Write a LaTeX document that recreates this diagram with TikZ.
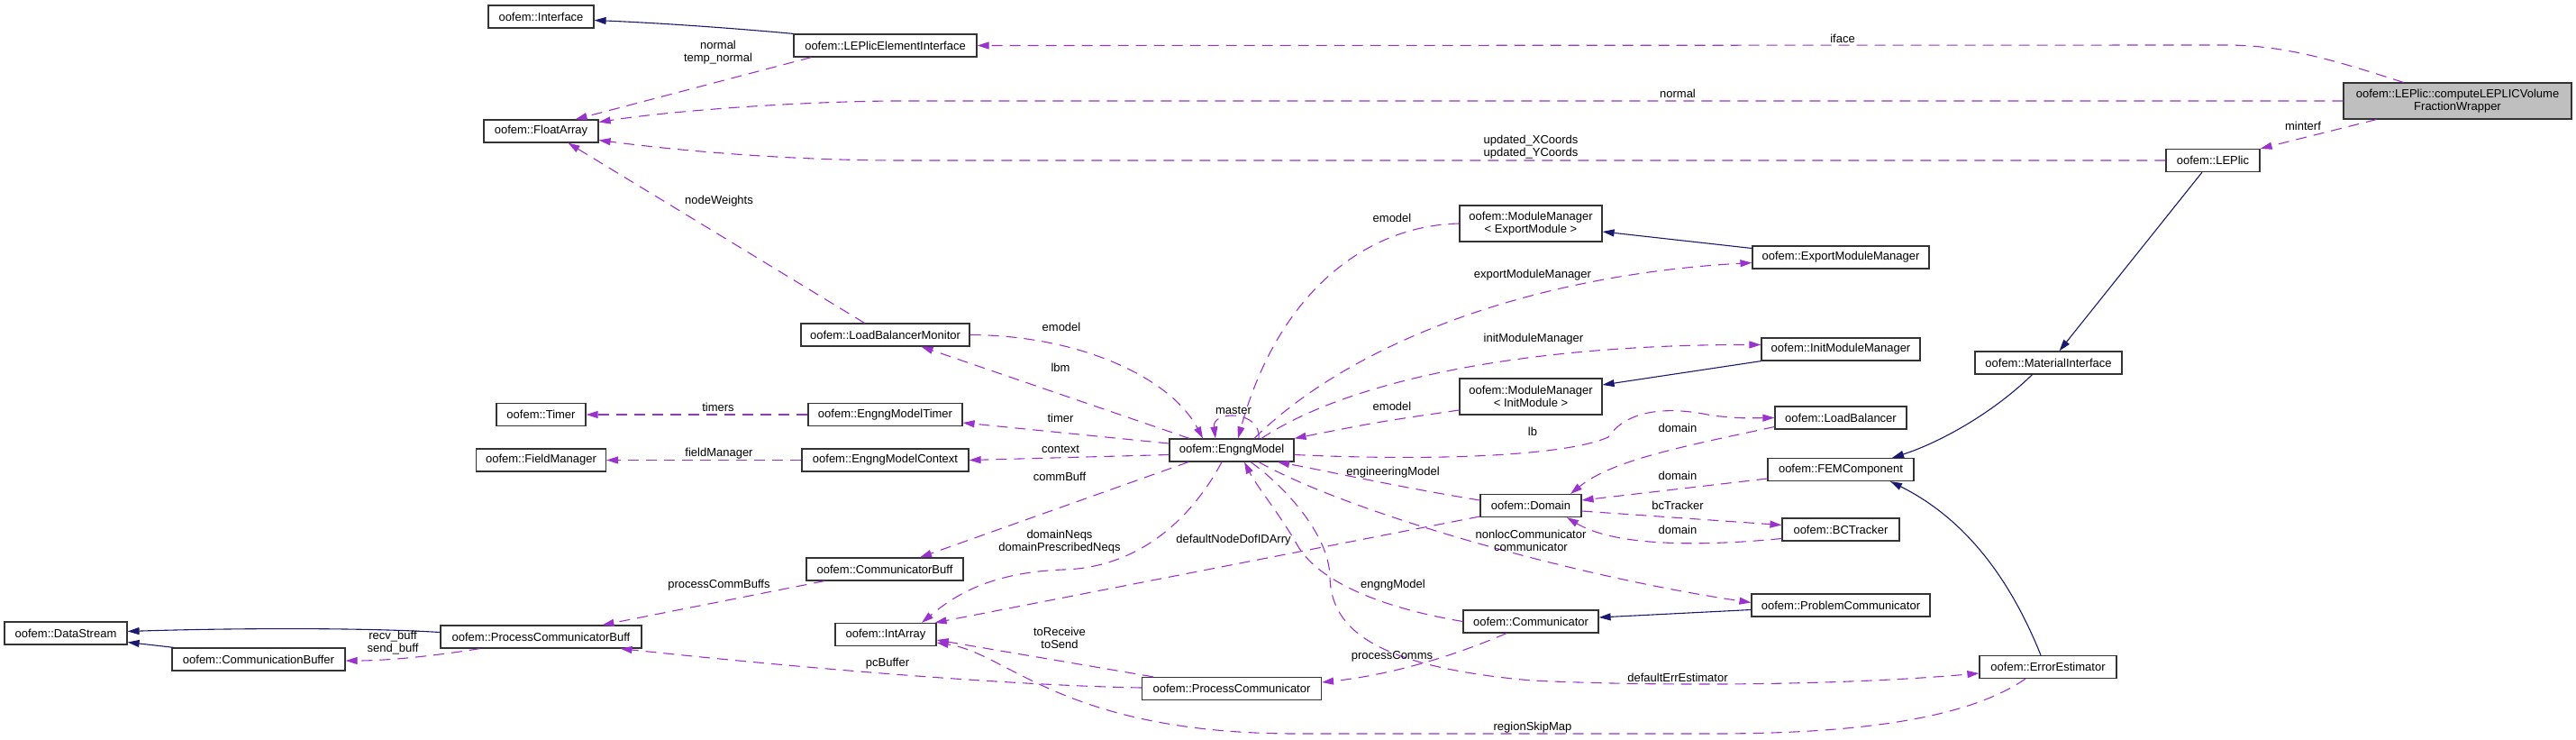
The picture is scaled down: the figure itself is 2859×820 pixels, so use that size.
\documentclass[tikz,border=0pt]{standalone}
\usepackage{fontspec}
\setmainfont{Liberation Sans}
\usepackage{tikz}
\usetikzlibrary{arrows.meta}
\definecolor{orchid}{RGB}{154,50,205}
\definecolor{midnight}{RGB}{25,25,112}

\begin{document}
\begin{tikzpicture}[x=1pt, y=-1pt,
		font=\fontsize{13}{14}\selectfont,
		box/.style={draw=black!80, line width=1.2pt, fill=white, minimum height=25pt, inner sep=0pt},
		twobox/.style={box, minimum height=40pt, align=center},
		lbl/.style={inner sep=0pt, align=center},
		relation/.style={orchid, line width=1.1pt, dash pattern=on 12pt off 8pt, -{Triangle[length=13pt,width=8pt]}},
		inherits/.style={midnight, line width=1.1pt, -{Triangle[length=13pt,width=8pt]}}]
			\useasboundingbox (0,0) rectangle (2859,820);
			% classes
			\node[twobox, fill=black!25, minimum width=253pt] (mainnode) at (2727.5,112) {oofem::LEPlic::computeLEPLICVolume\\FractionWrapper};
			\node[box, minimum width=117pt] (iface) at (600.5,18.5) {oofem::Interface};
			\node[box, minimum width=203pt] (lepei) at (982.5,50.5) {oofem::LEPlicElementInterface};
			\node[box, minimum width=127pt] (floatarr) at (600.5,145.5) {oofem::FloatArray};
			\node[box, minimum width=104pt] (leplic) at (2456,178) {oofem::LEPlic};
			\node[box, minimum width=163pt] (matiface) at (2273.5,402.5) {oofem::MaterialInterface};
			\node[box, minimum width=162pt] (femcomp) at (2043,521) {oofem::FEMComponent};
			\node[box, minimum width=152pt] (errest) at (2273,740) {oofem::ErrorEstimator};
			\node[box, minimum width=187pt] (lbmon) at (982.5,371.5) {oofem::LoadBalancerMonitor};
			\node[box, minimum width=138pt] (engmod) at (1367,499.5) {oofem::EngngModel};
			\node[box, minimum width=171pt] (emtimer) at (982.5,460) {oofem::EngngModelTimer};
			\node[box, minimum width=99pt] (timer) at (600.5,460) {oofem::Timer};
			\node[box, minimum width=185pt] (emcontext) at (982.5,510.5) {oofem::EngngModelContext};
			\node[box, minimum width=144pt] (fieldman) at (600.5,510.5) {oofem::FieldManager};
			\node[box, minimum width=174pt] (commbuff) at (982,631.5) {oofem::CommunicatorBuff};
			\node[box, minimum width=223pt] (pcbuff) at (600.5,706.5) {oofem::ProcessCommunicatorBuff};
			\node[box, minimum width=136pt] (datastream) at (73,702.5) {oofem::DataStream};
			\node[box, minimum width=192pt] (combuffer) at (287,731.5) {oofem::CommunicationBuffer};
			\node[box, minimum width=112pt] (intarr) at (983,704) {oofem::IntArray};
			\node[box, minimum width=199pt] (proccomm) at (1367,764) {oofem::ProcessCommunicator};
			\node[twobox, minimum width=158pt] (mmexport) at (1699,248) {oofem::ModuleManager\\< ExportModule >};
			\node[box, minimum width=196pt] (expmm) at (2043,285.5) {oofem::ExportModuleManager};
			\node[box, minimum width=176pt] (initmm) at (2043,387.5) {oofem::InitModuleManager};
			\node[twobox, minimum width=158pt] (mminit) at (1699,440) {oofem::ModuleManager\\< InitModule >};
			\node[box, minimum width=146pt] (loadbal) at (2043,463.5) {oofem::LoadBalancer};
			\node[box, minimum width=112pt] (domain) at (1699,561) {oofem::Domain};
			\node[box, minimum width=130pt] (bctrack) at (2043,587.5) {oofem::BCTracker};
			\node[box, minimum width=198pt] (probcomm) at (2043,671.5) {oofem::ProblemCommunicator};
			\node[box, minimum width=150pt] (communic) at (1699,689.5) {oofem::Communicator};
			% inheritance
			\draw[inherits] (lepei.north west) .. controls (800,30) and (720,25) .. ([yshift=-4pt]iface.east);
			\draw[inherits] ([xshift=-12pt]leplic.south) -- ([xshift=12pt]matiface.north);
			\draw[inherits] ([xshift=-18pt]matiface.south) .. controls (2210,460) and (2150,492) .. ([xshift=57pt]femcomp.north);
			\draw[inherits] ([xshift=-8pt]errest.north) .. controls (2230,640) and (2180,575) .. ([xshift=55pt]femcomp.south);
			\draw[inherits] ([yshift=10pt]expmm.west) -- ([yshift=-9pt]mmexport.east);
			\draw[inherits] (initmm.south west) -- ([yshift=13pt]mminit.east);
			\draw[inherits] ([yshift=-5pt]probcomm.west) -- ([yshift=4.5pt]communic.east);
			\draw[inherits] ([yshift=5pt]pcbuff.west) .. controls (400,696) and (250,697) .. ([yshift=2pt]datastream.east);
			\draw[inherits] ([xshift=-94pt]combuffer.north) -- ([yshift=-10pt]datastream.east);
			% members
			\draw[relation] ([xshift=20pt]lepei.south west) -- ([xshift=-26pt]floatarr.north east);
			\draw[relation] ([xshift=-60pt]mainnode.north) .. controls (2600,70) and (2540,50) .. (2470,50) -- (lepei.east);
			\draw[relation] (mainnode.west) -- (1000,112) .. controls (900,112) and (750,122) .. ([yshift=10pt]floatarr.east);
			\draw[relation] (leplic.west) -- (1000,178) .. controls (880,178) and (760,168) .. ([yshift=-10pt]floatarr.east);
			\draw[relation] ([xshift=-90pt]mainnode.south) -- (leplic.north east);
			\draw[relation] ([xshift=-23pt]lbmon.north) -- ([xshift=30pt]floatarr.south);
			\draw[relation] (lbmon.east) .. controls (1200,372) and (1300,420) .. ([xshift=-32pt]engmod.north);
			\draw[relation] ([xshift=-47pt]engmod.north) -- ([xshift=40pt]lbmon.south);
			\draw[relation] ([xshift=30pt]engmod.north) .. controls (1400,455) and (1345,455) .. ([xshift=-18pt]engmod.north);
			\draw[relation] ([yshift=7.5pt]engmod.west) -- ([yshift=-9pt]emtimer.east);
			\draw[relation] (emtimer.west) -- (timer.east);
			\draw[relation] ([yshift=-5pt]engmod.west) -- (emcontext.east);
			\draw[relation] (emcontext.west) -- (fieldman.east);
			\draw[relation] ([xshift=-48pt]engmod.south) -- ([xshift=39pt]commbuff.north);
			\draw[relation] ([xshift=-67pt]commbuff.south) -- ([xshift=68pt]pcbuff.north);
			\draw[relation] ([xshift=-68pt]pcbuff.south) .. controls (480,728) and (430,733) .. ([yshift=-1.5pt]combuffer.east);
			\draw[relation] ([xshift=-11pt]engmod.south) .. controls (1320,580) and (1260,630) .. (1180,632) .. controls (1100,635) and (1060,660) .. ([xshift=40pt]intarr.north);
			\draw[relation] ([yshift=-12pt]domain.west) -- ([xshift=-2pt]intarr.north east);
			\draw[relation] ([xshift=-87pt]proccomm.north) -- ([yshift=-6pt]intarr.east);
			\draw[relation] ([xshift=-25pt]errest.south) .. controls (2180,800) and (2050,814) .. (1900,814) -- (1440,814) .. controls (1180,814) and (1120,725) .. ([yshift=-9pt]intarr.east);
			\draw[relation] ([yshift=1pt]proccomm.west) .. controls (1100,760) and (850,737) .. ([xshift=88pt]pcbuff.south);
			\draw[relation] ([xshift=25pt]engmod.north) .. controls (1500,380) and (1700,305) .. ([yshift=-6pt]expmm.west);
			\draw[relation] ([xshift=33pt]engmod.north) .. controls (1500,420) and (1700,382) .. ([yshift=5pt]initmm.west);
			\draw[relation] (mmexport.west) .. controls (1520,250) and (1420,320) .. ([xshift=7pt]engmod.north);
			\draw[relation] ([yshift=-15pt]mminit.west) .. controls (1530,468) .. (engmod.north east);
			\draw[relation] ([yshift=-5pt]engmod.east) .. controls (1600,512) and (1740,505) .. (1785,485) .. controls (1805,455) and (1850,450) .. (1900,461) .. controls (1930,464) .. (loadbal.west);
			\draw[relation] ([yshift=-10pt]loadbal.west) .. controls (1870,495) and (1790,510) .. ([xshift=44pt]domain.north);
			\draw[relation] ([yshift=6pt]domain.west) .. controls (1550,540) and (1470,522) .. ([xshift=51pt]engmod.south);
			\draw[relation] ([yshift=-10pt]femcomp.west) -- ([yshift=6pt]domain.east);
			\draw[relation] ([yshift=-6pt]domain.east) -- ([yshift=5pt]bctrack.west);
			\draw[relation] ([yshift=-10pt]bctrack.west) .. controls (1880,607) and (1790,605) .. ([xshift=40pt]domain.south);
			\draw[relation] ([xshift=30pt]engmod.south) .. controls (1500,570) and (1750,640) .. ([yshift=3pt]probcomm.west);
			\draw[relation] (communic.west) .. controls (1520,672) and (1460,640) .. (1440,605) .. controls (1420,570) and (1395,540) .. ([xshift=14pt]engmod.south);
			\draw[relation] ([xshift=-27pt]communic.south) .. controls (1620,725) and (1550,748) .. ([yshift=7pt]proccomm.east);
			\draw[relation] ([xshift=21pt]engmod.south) .. controls (1420,535) and (1475,590) .. (1476,640) .. controls (1477,700) and (1530,740) .. (1700,755) .. controls (1850,762) and (2050,760) .. ([yshift=-7pt]errest.west);
			% member names
			\node[lbl] (lblnormala) at (797,58) {normal\\temp\_normal};
			\node[lbl] (lbliface) at (2045,43) {iface};
			\node[lbl] (lblnormalb) at (1862,104) {normal};
			\node[lbl] (lblcoords) at (1699,163) {updated\_XCoords\\updated\_YCoords};
			\node[lbl] (lblminterf) at (2556,140) {minterf};
			\node[lbl] (lblweights) at (798,223) {nodeWeights};
			\node[lbl] (lblemodela) at (1178,363) {emodel};
			\node[lbl] (lbllbm) at (1177,408) {lbm};
			\node[lbl] (lblmaster) at (1369,455) {master};
			\node[lbl] (lbltimer) at (1177,464) {timer};
			\node[lbl] (lbltimers) at (797,452) {timers};
			\node[lbl] (lblcontext) at (1177,498) {context};
			\node[lbl] (lblfield) at (798,503) {fieldManager};
			\node[lbl] (lblcommbuff) at (1176,529) {commBuff};
			\node[lbl] (lblpcbuffs) at (798,649) {processCommBuffs};
			\node[lbl] (lblbuff) at (436,713) {recv\_buff\\send\_buff};
			\node[lbl] (lblneqs) at (1176,601) {domainNeqs\\domainPrescribedNeqs};
			\node[lbl] (lbldofid) at (1369,599) {defaultNodeDofIDArry};
			\node[lbl] (lblsend) at (1176,708) {toReceive\\toSend};
			\node[lbl] (lblskip) at (1701,807) {regionSkipMap};
			\node[lbl] (lblpcbuffer) at (985,736) {pcBuffer};
			\node[lbl] (lblexport) at (1701,305) {exportModuleManager};
			\node[lbl] (lblinit) at (1702,376) {initModuleManager};
			\node[lbl] (lblemodelb) at (1545,242) {emodel};
			\node[lbl] (lblemodelc) at (1545,451) {emodel};
			\node[lbl] (lbllb) at (1701,479) {lb};
			\node[lbl] (lbldomaina) at (1862,475) {domain};
			\node[lbl] (lblengmodel) at (1546,524) {engineeringModel};
			\node[lbl] (lbldomainb) at (1862,528) {domain};
			\node[lbl] (lblbc) at (1862,561) {bcTracker};
			\node[lbl] (lbldomainc) at (1862,588) {domain};
			\node[lbl] (lblnonloc) at (1699,600) {nonlocCommunicator\\communicator};
			\node[lbl] (lblengngmodel) at (1546,649) {engngModel};
			\node[lbl] (lblcomms) at (1545,728) {processComms};
			\node[lbl] (lblerr) at (1862,752) {defaultErrEstimator};
		\end{tikzpicture}
\end{document}
